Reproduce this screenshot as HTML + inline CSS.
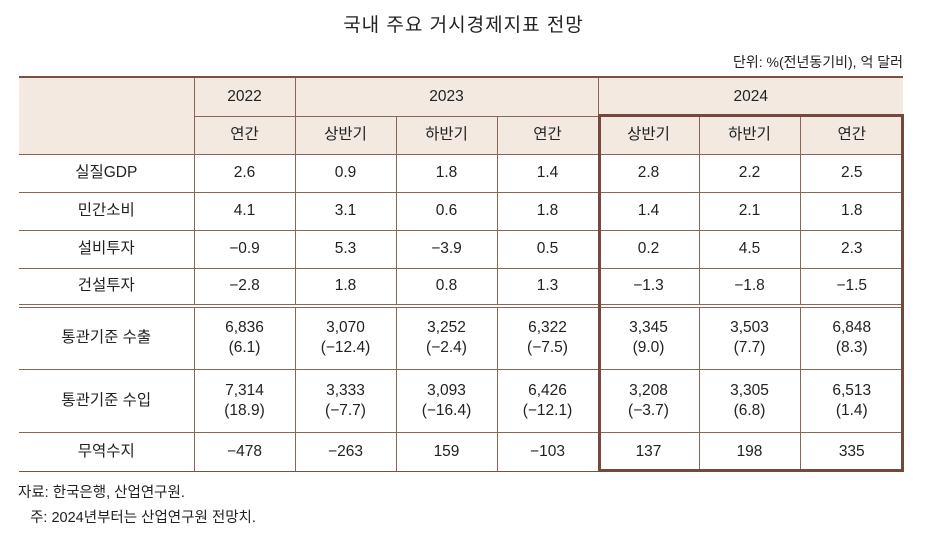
<!DOCTYPE html>
<html><head><meta charset="utf-8"><style>
body{margin:0;width:927px;height:538px;background:#fff;font-family:"Liberation Sans","Noto Sans CJK KR",sans-serif;color:#222;position:relative;overflow:hidden}
.title{position:absolute;left:0;width:927px;top:10px;text-align:center;font-size:19px;letter-spacing:1px}
.unit{position:absolute;right:24px;top:52px;font-size:14px}
table{position:absolute;left:19px;top:76px;border-collapse:collapse;table-layout:fixed;font-size:15.5px}
td{border:1px solid #8a6454;text-align:center;padding:0;line-height:20px}
tr.h td{background:#f3e9e0}
table{border-top:2px solid #7a5040}
td:first-child{border-left:none}
td:last-child{border-right:none}
tr.dbl td{border-top:4px double #8a6454}
tr.last td{border-bottom:1px solid #7a5040}
.box{position:absolute;left:598px;top:114px;width:300px;height:352px;border:3px solid #74483a;pointer-events:none}
.src{position:absolute;left:18px;top:481px;font-size:14.5px;line-height:25px}
</style></head><body>
<div class="title">국내 주요 거시경제지표 전망</div>
<div class="unit">단위: %(전년동기비), 억 달러</div>
<table>
<colgroup><col style="width:175px"><col style="width:101px"><col style="width:101px"><col style="width:101px"><col style="width:101px"><col style="width:101px"><col style="width:101px"><col style="width:103px"></colgroup>
<tr class="h" style="height:39px"><td rowspan="2"></td><td>2022</td><td colspan="3">2023</td><td colspan="3">2024</td></tr>
<tr class="h" style="height:38px"><td>연간</td><td>상반기</td><td>하반기</td><td>연간</td><td>상반기</td><td>하반기</td><td>연간</td></tr>
<tr style="height:38px"><td>실질GDP</td><td>2.6</td><td>0.9</td><td>1.8</td><td>1.4</td><td>2.8</td><td>2.2</td><td>2.5</td></tr>
<tr style="height:38px"><td>민간소비</td><td>4.1</td><td>3.1</td><td>0.6</td><td>1.8</td><td>1.4</td><td>2.1</td><td>1.8</td></tr>
<tr style="height:38px"><td>설비투자</td><td>−0.9</td><td>5.3</td><td>−3.9</td><td>0.5</td><td>0.2</td><td>4.5</td><td>2.3</td></tr>
<tr style="height:38px"><td>건설투자</td><td>−2.8</td><td>1.8</td><td>0.8</td><td>1.3</td><td>−1.3</td><td>−1.8</td><td>−1.5</td></tr>
<tr class="dbl" style="height:63px"><td>통관기준 수출</td><td>6,836<br>(6.1)</td><td>3,070<br>(−12.4)</td><td>3,252<br>(−2.4)</td><td>6,322<br>(−7.5)</td><td>3,345<br>(9.0)</td><td>3,503<br>(7.7)</td><td>6,848<br>(8.3)</td></tr>
<tr style="height:63px"><td>통관기준 수입</td><td>7,314<br>(18.9)</td><td>3,333<br>(−7.7)</td><td>3,093<br>(−16.4)</td><td>6,426<br>(−12.1)</td><td>3,208<br>(−3.7)</td><td>3,305<br>(6.8)</td><td>6,513<br>(1.4)</td></tr>
<tr class="last" style="height:39px"><td>무역수지</td><td>−478</td><td>−263</td><td>159</td><td>−103</td><td>137</td><td>198</td><td>335</td></tr>
</table>
<div class="box"></div>
<div class="src">자료: 한국은행, 산업연구원.<br>&nbsp;&nbsp;&nbsp;주: 2024년부터는 산업연구원 전망치.</div>
</body></html>
